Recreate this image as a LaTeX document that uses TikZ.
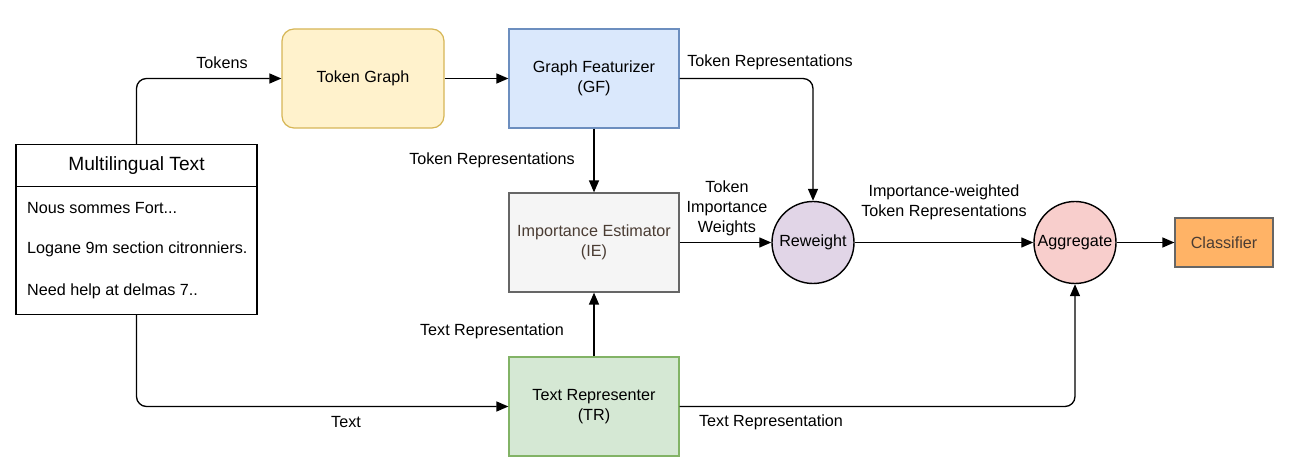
\documentclass[tikz,border=0pt]{standalone}
\usepackage{fontspec}
\setmainfont{Liberation Sans}
\usetikzlibrary{arrows.meta,positioning}

\definecolor{jauneF}{HTML}{FFF2CC}
\definecolor{jauneD}{HTML}{D6B656}
\definecolor{bleuF}{HTML}{DAE8FC}
\definecolor{bleuD}{HTML}{6C8EBF}
\definecolor{grisF}{HTML}{F5F5F5}
\definecolor{grisD}{HTML}{666666}
\definecolor{grisT}{HTML}{4A3C33}
\definecolor{vertF}{HTML}{D5E8D4}
\definecolor{vertD}{HTML}{82B366}
\definecolor{violetF}{HTML}{E1D5E7}
\definecolor{rougeF}{HTML}{F8CECC}
\definecolor{orangeF}{HTML}{FFB366}

\tikzset{
  boite/.style={draw, line width=0.7pt, minimum width=3.4cm, minimum height=1.98cm,
    align=center, font=\fontsize{9.2}{11.4}\selectfont},
  rond/.style={circle, draw, line width=0.8pt, minimum size=1.64cm, inner sep=0pt,
    font=\fontsize{9.2}{11.4}\selectfont},
  fleche/.style={-{Triangle[length=0.24cm,width=0.2cm]}, line width=0.75pt, rounded corners=0.2cm},
  etiq/.style={font=\fontsize{9.2}{11.4}\selectfont, align=center},
  ligne/.style={anchor=west, font=\fontsize{9.2}{11.4}\selectfont}
}

\begin{document}
\begin{tikzpicture}
    \useasboundingbox (0,0.03) rectangle (25.88,-9.39);

    % Le texte multilingue
    \node[draw, line width=0.7pt, minimum width=4.82cm, minimum height=0.84cm,
      font=\fontsize{10.9}{13}\selectfont] (mth) at (2.73,-3.28) {Multilingual Text};
    \node[draw, line width=0.7pt, minimum width=4.82cm, minimum height=2.56cm] (mtb) at (2.73,-4.98) {};
    \node[ligne] (l1) at (0.42,-4.14) {Nous sommes Fort...};
    \node[ligne] (l2) at (0.42,-4.96) {Logane 9m section citronniers.};
    \node[ligne] (l3) at (0.42,-5.80) {Need help at delmas 7..};

    % Les boites
    \node[boite, fill=jauneF, draw=jauneD, minimum width=3.24cm, rounded corners=0.24cm] (tg) at (7.26,-1.54) {Token Graph};
    \node[boite, fill=bleuF, draw=bleuD] (gf) at (11.88,-1.54) {Graph Featurizer\\(GF)};
    \node[boite, fill=grisF, draw=grisD, text=grisT] (ie) at (11.88,-4.82) {Importance Estimator\\(IE)};
    \node[boite, fill=vertF, draw=vertD] (tr) at (11.88,-8.10) {Text Representer\\(TR)};
    \node[boite, fill=orangeF, draw=grisD, text=grisT, minimum width=1.96cm, minimum height=0.98cm] (cl) at (24.48,-4.82) {Classifier};

    % Les cercles
    \node[rond, fill=violetF] (rw) at (16.26,-4.82) {Reweight};
    \node[rond, fill=rougeF] (ag) at (21.50,-4.82) {Aggregate};

    % Les fleches
    \draw[fleche] (mth.north) |- (tg.west);
    \draw[fleche] (tg) -- (gf);
    \draw[fleche] (gf.east) -| (rw.north);
    \draw[fleche] (gf) -- (ie);
    \draw[fleche] (ie) -- (rw);
    \draw[fleche] (rw) -- (ag);
    \draw[fleche] (ag) -- (cl);
    \draw[fleche] (mtb.south) |- (tr.west);
    \draw[fleche] (tr) -- (ie);
    \draw[fleche] (tr.east) -| (ag.south);

    % Les etiquettes
    \node[etiq] (e1) at (4.44,-1.22) {Tokens};
    \node[etiq] (e2) at (15.40,-1.22) {Token Representations};
    \node[etiq] (e3) at (9.84,-3.18) {Token Representations};
    \node[etiq] (e4) at (14.54,-4.14) {Token\\Importance\\Weights};
    \node[etiq] (e5) at (18.88,-4.02) {Importance-weighted\\Token Representations};
    \node[etiq] (e6) at (6.92,-8.42) {Text};
    \node[etiq] (e7) at (9.84,-6.60) {Text Representation};
    \node[etiq] (e8) at (15.42,-8.42) {Text Representation};

\end{tikzpicture}
\end{document}
